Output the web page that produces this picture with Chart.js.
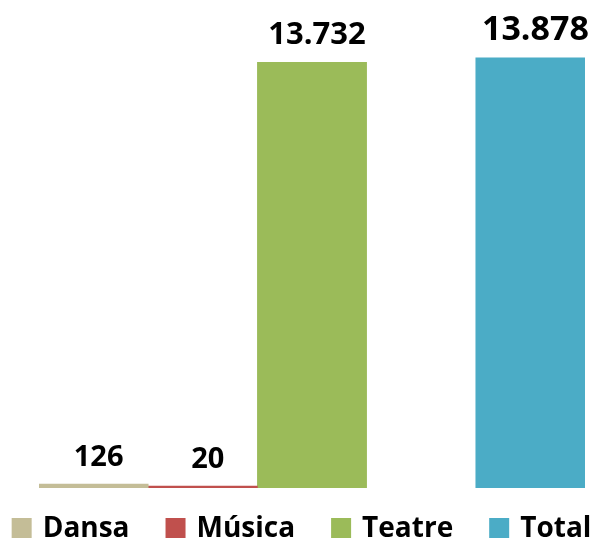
<!DOCTYPE html>
<html>
<head>
<meta charset="utf-8">
<script src="https://cdn.jsdelivr.net/npm/chart.js@4"></script>
<style>
  html, body { margin: 0; padding: 0; background: #fff; }
  canvas { display: block; }
</style>
</head>
<body>
<canvas id="chart" width="596" height="543"></canvas>
<script>
const categories = ['Dansa', 'Música', 'Teatre', 'Total'];
const values = [126, 20, 13732, 13878];
const valueLabels = ['126', '20', '13.732', '13.878'];
const colors = ['#C4BD97', '#C0504D', '#9BBB59', '#4BACC6'];
const labelSizes = [29, 29, 31, 34];

const FONT = '"Open Sans", "Noto Sans", sans-serif';

// one category, each series is its own bar; an empty slot sits before Total
const datasets = categories.map((name, i) => ({
    label: name,
    data: [values[i]],
    backgroundColor: colors[i],
    borderWidth: 0,
    minBarLength: 2
}));
datasets.splice(3, 0, { label: '', data: [null], backgroundColor: 'rgba(0,0,0,0)', spacer: true });

const valueLabelPlugin = {
    id: 'valueLabels',
    afterDatasetsDraw(chart) {
        const ctx = chart.ctx;
        ctx.save();
        ctx.fillStyle = '#000';
        ctx.textAlign = 'center';
        ctx.textBaseline = 'alphabetic';
        chart.data.datasets.forEach((ds, di) => {
            if (ds.spacer) return;
            const idx = categories.indexOf(ds.label);
            const bar = chart.getDatasetMeta(di).data[0];
            ctx.font = `bold ${labelSizes[idx]}px ${FONT}`;
            ctx.fillText(valueLabels[idx], bar.x + 5, bar.y - 18);
        });
        ctx.restore();
    }
};

const legendPlugin = {
    id: 'bottomLegend',
    afterDraw(chart) {
        const ctx = chart.ctx;
        const box = 20, gap = 11, itemGap = 36;
        ctx.save();
        ctx.font = `bold 28px ${FONT}`;
        const widths = categories.map(c => ctx.measureText(c).width);
        let total = widths.reduce((a, b) => a + b, 0) + categories.length * (box + gap) + (categories.length - 1) * itemGap;
        let x = 301.5 - total / 2;
        const y = 528;
        ctx.textBaseline = 'middle';
        ctx.textAlign = 'left';
        categories.forEach((c, i) => {
            ctx.fillStyle = colors[i];
            ctx.fillRect(x, y - box / 2, box, box);
            ctx.fillStyle = '#000';
            ctx.fillText(c, x + box + gap, y + 1);
            x += box + gap + widths[i] + itemGap;
        });
        ctx.restore();
    }
};

new Chart(document.getElementById('chart').getContext('2d'), {
    type: 'bar',
    data: {
        labels: [''],
        datasets: datasets
    },
    options: {
        responsive: false,
        animation: false,
        layout: { padding: { top: 54, bottom: 55, left: 39, right: 11 } },
        datasets: { bar: { categoryPercentage: 1, barPercentage: 1 } },
        scales: {
            x: { display: false },
            y: { display: false, min: 0, max: 14000 }
        },
        plugins: {
            legend: { display: false },
            tooltip: { enabled: false }
        }
    },
    plugins: [valueLabelPlugin, legendPlugin]
});
</script>
</body>
</html>
